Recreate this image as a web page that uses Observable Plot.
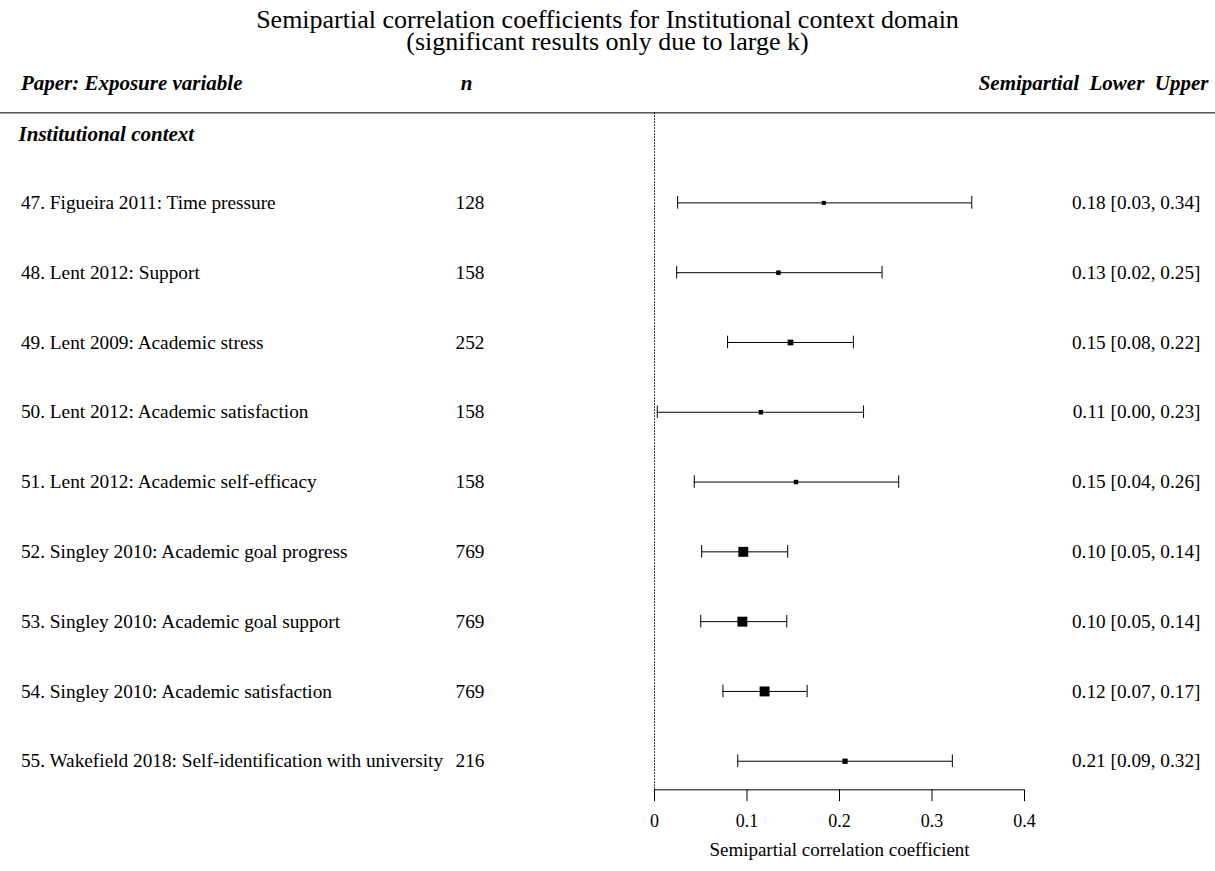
<!DOCTYPE html>
<html><head><meta charset="utf-8">
<script src="https://cdn.jsdelivr.net/npm/d3@7"></script>
<script src="https://cdn.jsdelivr.net/npm/@observablehq/plot@0.6"></script>
<style>
body{margin:0;background:#fff;font-family:"Liberation Serif",serif;}
#t{position:absolute;top:9px;left:0;width:1215px;text-align:center;font-size:26px;line-height:22px;}
#c{position:absolute;top:0;left:0;}
svg text{font-family:"Liberation Serif",serif !important;}
</style></head><body>
<div id="c"></div>
<div id="t">Semipartial correlation coefficients for Institutional context domain<br>(significant results only due to large k)</div>
<script>
const labels = ["47. Figueira 2011: Time pressure","48. Lent 2012: Support","49. Lent 2009: Academic stress","50. Lent 2012: Academic satisfaction","51. Lent 2012: Academic self-efficacy","52. Singley 2010: Academic goal progress","53. Singley 2010: Academic goal support","54. Singley 2010: Academic satisfaction","55. Wakefield 2018: Self-identification with university"];
const nValues = [128,158,252,158,158,769,769,769,216];
const estimates = [0.183,0.134,0.147,0.115,0.153,0.096,0.095,0.119,0.206];
const lowers = [0.025,0.024,0.079,0.003,0.043,0.051,0.050,0.074,0.090];
const uppers = [0.343,0.246,0.215,0.226,0.264,0.144,0.143,0.165,0.322];
const ciLabels = ["0.18 [0.03, 0.34]","0.13 [0.02, 0.25]","0.15 [0.08, 0.22]","0.11 [0.00, 0.23]","0.15 [0.04, 0.26]","0.10 [0.05, 0.14]","0.10 [0.05, 0.14]","0.12 [0.07, 0.17]","0.21 [0.09, 0.32]"];
const xTicks = [0,0.1,0.2,0.3,0.4];

const rows = labels.map((l,i)=>({i,l,n:nValues[i],est:estimates[i],lo:lowers[i],hi:uppers[i],ci:ciLabels[i]}));
const xL=-0.685, xN=(455-654)/925, xR=(1200-654)/925;
const plot = Plot.plot({
  width:1215, height:871, margin:0,
  style:{fontFamily:"Liberation Serif", fontSize:"19.3px", background:"#fff"},
  x:{domain:[-654/925,(1215-654)/925], axis:null},
  y:{domain:[-2.9,9.58], range:[0,871], axis:null},
  r:{type:"sqrt", domain:[0,769], range:[0,5.6]},
  marks:[
    Plot.ruleY([-1.29],{stroke:"black",strokeWidth:1}),
    Plot.ruleX([0],{y1:-1.29,y2:8.41,stroke:"black",strokeDasharray:"1.5,1.5"}),
    Plot.ruleY([8.41],{x1:0,x2:0.4,stroke:"black"}),
    Plot.ruleX(xTicks,{x:d=>d,y1:8.41,y2:8.58,stroke:"black"}),
    Plot.text(xTicks,{x:d=>d,y:8.86,text:d=>String(d),fontSize:18}),
    Plot.text(["Semipartial correlation coefficient"],{x:0.2,y:9.27,text:d=>d,fontSize:19}),
    Plot.text(["Paper: Exposure variable"],{x:xL,y:-1.72,text:d=>d,textAnchor:"start",fontWeight:"bold",fontStyle:"italic",fontSize:21}),
    Plot.text(["n"],{x:(466-654)/925,y:-1.72,text:d=>d,fontWeight:"bold",fontStyle:"italic",fontSize:21}),
    Plot.text(["Semipartial  Lower  Upper"],{x:(1208-654)/925,y:-1.72,text:d=>d,textAnchor:"end",fontWeight:"bold",fontStyle:"italic",fontSize:21}),
    Plot.text(["Institutional context"],{x:xL-0.0025,y:-0.99,text:d=>d,textAnchor:"start",fontWeight:"bold",fontStyle:"italic",fontSize:21}),
    Plot.text(rows,{x:xL,y:"i",text:"l",textAnchor:"start"}),
    Plot.text(rows,{x:xN,y:"i",text:d=>String(d.n),textAnchor:"start"}),
    Plot.text(rows,{x:xR,y:"i",text:"ci",textAnchor:"end"}),
    Plot.ruleY(rows,{y:"i",x1:"lo",x2:"hi",stroke:"black"}),
    Plot.ruleX(rows,{x:"lo",y1:d=>d.i-0.09,y2:d=>d.i+0.09,stroke:"black"}),
    Plot.ruleX(rows,{x:"hi",y1:d=>d.i-0.09,y2:d=>d.i+0.09,stroke:"black"}),
    Plot.dot(rows,{x:"est",y:"i",r:"n",symbol:"square",fill:"black"})
  ]
});
document.getElementById("c").appendChild(plot);
</script></body></html>
